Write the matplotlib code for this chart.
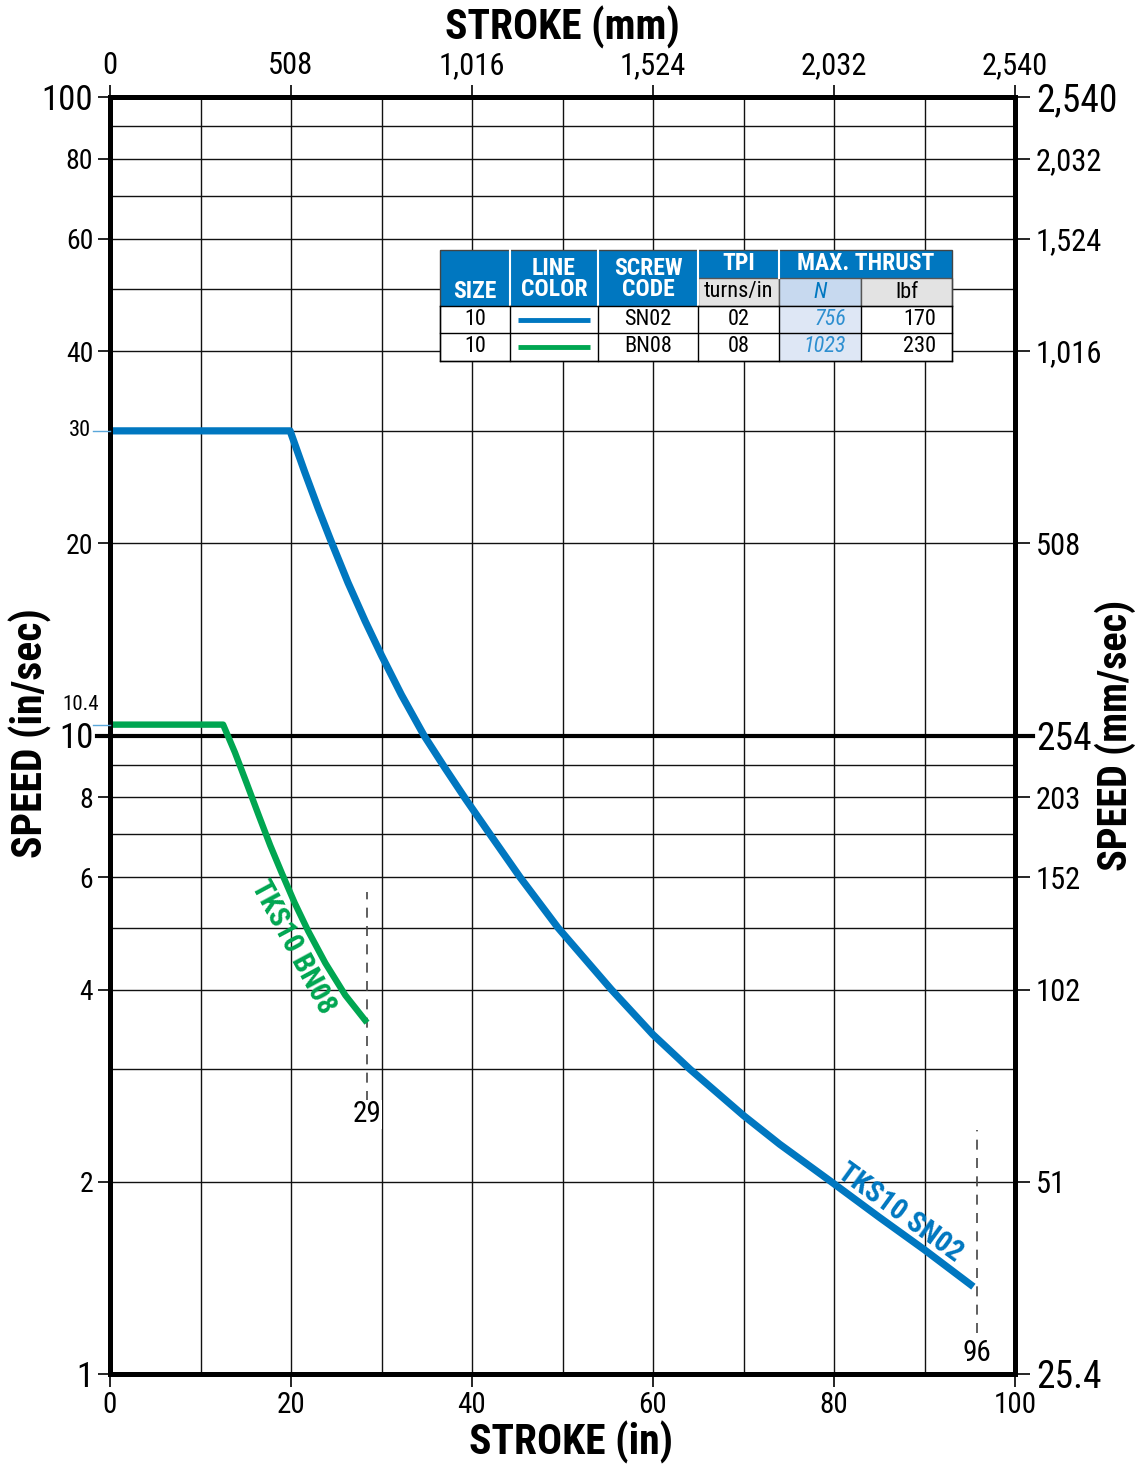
import os
import matplotlib
matplotlib.use('Agg')
import matplotlib.pyplot as plt
from matplotlib import font_manager as fm
from matplotlib.patches import Rectangle
from matplotlib.ticker import NullLocator

# ---------- condensed font lookup ----------
_files = {os.path.basename(f.fname).lower(): f.fname for f in fm.fontManager.ttflist}
_options = [
    ('robotocondensed-regular.ttf', 'robotocondensed-bold.ttf', 'robotocondensed-italic.ttf'),
    ('liberationsansnarrow-regular.ttf', 'liberationsansnarrow-bold.ttf', 'liberationsansnarrow-italic.ttf'),
    ('notosans-condensed.ttf', 'notosans-condensedbold.ttf', 'notosans-condenseditalic.ttf'),
    ('dejavusanscondensed.ttf', 'dejavusanscondensed-bold.ttf', 'dejavusanscondensed-oblique.ttf'),
]
FAM = 'Liberation Sans'
for reg, bld, ita in _options:
    if reg in _files and bld in _files:
        for key, w, st in [(reg, 400, 'normal'), (bld, 700, 'normal'), (ita, 400, 'italic')]:
            if key in _files:
                fm.fontManager.ttflist.append(fm.FontEntry(
                    fname=_files[key], name='CondFace', style=st, variant='normal',
                    weight=w, stretch='normal', size='scalable'))
        FAM = 'CondFace'
        break
plt.rcParams['font.family'] = [FAM, 'DejaVu Sans']

BLUE = '#0077C0'
GREEN = '#00A651'

# ---------------- data ----------------
sn02_x = [0, 19.9, 21.5, 23.0, 24.4, 26.3, 28.2, 30.0, 32.2, 34.7, 37.0, 39.3, 42.0,
          45.3, 49.5, 55.4, 60.0, 64.1, 70.0, 74.0, 79.7, 85.0, 90.0, 95.4]
sn02_y = [30, 30, 25.9, 22.7, 20.2, 17.35, 15.1, 13.35, 11.58, 10.0, 8.9, 7.95, 7.0,
          6.0, 5.0, 4.0, 3.4, 3.0, 2.54, 2.29, 2.0, 1.76, 1.565, 1.37]

bn08_x = [0, 12.5, 13.8, 15.1, 16.4, 17.7, 19.0, 20.4, 21.9, 23.8, 26.0, 28.4]
bn08_y = [10.4, 10.4, 9.41, 8.42, 7.52, 6.73, 6.08, 5.47, 4.94, 4.40, 3.92, 3.55]

max_stroke_x = [28.4, 95.8]
max_stroke_lbl = ['29', '96']
dash_top = [5.69, 2.41]
dash_bot = [2.68, 1.16]
max_lbl_y = [2.55, 1.08]

x_ticks = [0, 20, 40, 60, 80, 100]
x_mm_labels = ['0', '508', '1,016', '1,524', '2,032', '2,540']
y_ticks = [1, 2, 4, 6, 8, 10, 20, 40, 60, 80, 100]
y_in_labels = ['1', '2', '4', '6', '8', '10', '20', '40', '60', '80', '100']
y_mm_labels = ['25.4', '51', '102', '152', '203', '254', '508', '1,016', '1,524', '2,032', '2,540']
big_in = {'1', '10', '100'}
big_mm = {'25.4', '254', '2,540'}
extra_y = [30, 10.4]
extra_y_labels = ['30', '10.4']
grid_y = [2, 3, 4, 5, 6, 7, 8, 9, 20, 30, 40, 50, 60, 70, 80, 90]
grid_x = [10, 20, 30, 40, 50, 60, 70, 80, 90]

tbl_header_top = ['SIZE', 'LINE\nCOLOR', 'SCREW\nCODE', 'TPI', 'MAX. THRUST']
tbl_header_sub = ['turns/in', 'N', 'lbf']
tbl_size = ['10', '10']
tbl_color = [BLUE, GREEN]
tbl_code = ['SN02', 'BN08']
tbl_tpi = ['02', '08']
tbl_n = ['756', '1023']
tbl_lbf = ['170', '230']

# ---------------- figure ----------------
W, H = 1143, 1467
fig = plt.figure(figsize=(W / 100, H / 100), dpi=100)
L, R, T, B = 110, 1015, 97, 1374
ax = fig.add_axes([L / W, 1 - B / H, (R - L) / W, (B - T) / H])
ax.set_yscale('log')
ax.set_xlim(0, 100)
ax.set_ylim(1, 100)

for v in grid_y:
    ax.axhline(v, color='#111111', lw=1.0, zorder=1)
for v in grid_x:
    ax.axvline(v, color='#111111', lw=1.0, zorder=1)
ax.axhline(10, color='black', lw=3.0, zorder=2,
           xmin=-13 / (R - L), xmax=1 + 18 / (R - L), clip_on=False)

for s in ax.spines.values():
    s.set_linewidth(3.6)
    s.set_zorder(5)

ax.yaxis.set_minor_locator(NullLocator())
ax.set_xticks(x_ticks)
ax.set_xticklabels([str(v) for v in x_ticks])
ax.set_yticks(y_ticks)
ax.set_yticklabels(y_in_labels)
ax.tick_params(axis='both', which='major', direction='out', length=9, width=1.2,
               labelsize=21, pad=3)
for lab in ax.get_yticklabels():
    lab.set_fontsize(25 if lab.get_text() in big_in else 20)

secx = ax.secondary_xaxis('top')
secx.set_xticks(x_ticks)
secx.set_xticklabels(x_mm_labels)
secx.tick_params(direction='out', length=9, width=1.2, labelsize=22, pad=3)
for s in secx.spines.values():
    s.set_visible(False)

secy = ax.secondary_yaxis('right')
secy.set_yticks(y_ticks)
secy.set_yticklabels(y_mm_labels)
secy.yaxis.set_minor_locator(NullLocator())
secy.tick_params(direction='out', length=11, width=1.2, labelsize=22, pad=4)
for lab in secy.get_yticklabels():
    lab.set_fontsize(27 if lab.get_text() in big_mm else 22)
for s in secy.spines.values():
    s.set_visible(False)

# extra small labels at 30 and 10.4
yt = ax.get_yaxis_transform()
for v in extra_y:
    ax.plot([-17 / (R - L), 0], [v, v], color='#5AA7DA', lw=1.0, transform=yt,
            clip_on=False, zorder=6)
ax.text(-19 / (R - L), extra_y[0], extra_y_labels[0], transform=yt, ha='right',
        va='center', fontsize=16)
ax.text(-11 / (R - L), extra_y[1] * 1.04, extra_y_labels[1], transform=yt, ha='right',
        va='bottom', fontsize=15)

# curves
ax.plot(sn02_x, sn02_y, color=BLUE, lw=5.2, zorder=4, solid_joinstyle='round',
        solid_capstyle='butt')
ax.plot(bn08_x, bn08_y, color=GREEN, lw=4.6, zorder=4, solid_joinstyle='round',
        solid_capstyle='butt')

for xv, t, yt0, yb, yl in zip(max_stroke_x, max_stroke_lbl, dash_top, dash_bot, max_lbl_y):
    ax.plot([xv, xv], [yb, yt0], color='#444444', lw=1.2, dashes=(6, 5), zorder=3)
    ax.text(xv, yl, t, ha='center', va='center', fontsize=21, zorder=6,
            bbox=dict(facecolor='white', edgecolor='none', pad=0.5))

ax.text(20.2, 4.67, 'TKS10 BN08', color=GREEN, fontsize=21, fontweight='bold',
        rotation=-61.6, rotation_mode='anchor', ha='center', va='center', zorder=6)
ax.text(87.3, 1.79, 'TKS10 SN02', color=BLUE, fontsize=21, fontweight='bold',
        rotation=-36, rotation_mode='anchor', ha='center', va='center', zorder=6)

# titles
fig.text(562 / W, 1 - 27 / H, 'STROKE (mm)', ha='center', va='center',
         fontsize=30, fontweight='bold')
fig.text(571 / W, 1 - 1442 / H, 'STROKE (in)', ha='center', va='center',
         fontsize=30, fontweight='bold')
fig.text(30 / W, 1 - 733 / H, 'SPEED (in/sec)', ha='center', va='center',
         fontsize=30, fontweight='bold', rotation=90)
fig.text(1115 / W, 1 - 735 / H, 'SPEED (mm/sec)', ha='center', va='center',
         fontsize=29, fontweight='bold', rotation=90)

# ---------------- table ----------------
cx = [440, 510, 598, 698, 779, 861, 952]
ry = [250, 278, 306, 333, 361]
tax = fig.add_axes([cx[0] / W, 1 - ry[-1] / H, (cx[-1] - cx[0]) / W, (ry[-1] - ry[0]) / H])
tax.set_xlim(cx[0], cx[-1])
tax.set_ylim(ry[-1], ry[0])
tax.axis('off')
tax.set_zorder(10)

def rect(x0, y0, x1, y1, fc, ec='none', lw=0):
    tax.add_patch(Rectangle((x0, y0), x1 - x0, y1 - y0, facecolor=fc, edgecolor=ec,
                            linewidth=lw, clip_on=False))

rect(cx[0], ry[0], cx[-1], ry[4], 'white')
rect(cx[0], ry[0], cx[-1], ry[2], BLUE)
sub_fc = ['#E3E3E3', '#C7D9EF', '#E3E3E3']
for i in range(3):
    rect(cx[3 + i], ry[1], cx[4 + i], ry[2], sub_fc[i], ec='#555555', lw=1.0)
for r in range(2):
    rect(cx[4], ry[2 + r], cx[5], ry[3 + r], '#DEE7F5')
for xv in cx[1:4]:
    tax.plot([xv, xv], [ry[0], ry[2]], color='white', lw=1.5, clip_on=False)
tax.plot([cx[4], cx[4]], [ry[0], ry[1]], color='white', lw=1.5, clip_on=False)
for yv in ry[2:]:
    tax.plot([cx[0], cx[-1]], [yv, yv], color='black', lw=1.0, clip_on=False)
for xv in cx:
    tax.plot([xv, xv], [ry[2], ry[4]], color='black', lw=1.0, clip_on=False)
rect(cx[0], ry[0], cx[-1], ry[4], 'none', ec='#444444', lw=1.0)

hdr = dict(color='white', fontweight='bold', fontsize=17, ha='center')
tax.text((cx[0] + cx[1]) / 2, 292, tbl_header_top[0], va='center', **hdr)
tax.text((cx[1] + cx[2]) / 2, 279, tbl_header_top[1], va='center', linespacing=0.9, **hdr)
tax.text((cx[2] + cx[3]) / 2, 279, tbl_header_top[2], va='center', linespacing=0.9, **hdr)
tax.text((cx[3] + cx[4]) / 2, 264, tbl_header_top[3], va='center', **hdr)
tax.text((cx[4] + cx[6]) / 2, 264, tbl_header_top[4], va='center', **hdr)
tax.text((cx[3] + cx[4]) / 2, 292, tbl_header_sub[0], ha='center', va='center', fontsize=16)
tax.text((cx[4] + cx[5]) / 2, 292, tbl_header_sub[1], ha='center', va='center', fontsize=16,
         color=BLUE, style='italic')
tax.text((cx[5] + cx[6]) / 2, 292, tbl_header_sub[2], ha='center', va='center', fontsize=16)

for r in range(2):
    yc = (ry[2 + r] + ry[3 + r]) / 2
    tax.text((cx[0] + cx[1]) / 2, yc, tbl_size[r], ha='center', va='center', fontsize=16)
    tax.plot([cx[1] + 8, cx[2] - 8], [yc, yc], color=tbl_color[r], lw=3.5,
             solid_capstyle='butt', clip_on=False)
    tax.text((cx[2] + cx[3]) / 2, yc, tbl_code[r], ha='center', va='center', fontsize=16)
    tax.text((cx[3] + cx[4]) / 2, yc, tbl_tpi[r], ha='center', va='center', fontsize=16)
    tax.text(cx[5] - 15, yc, tbl_n[r], ha='right', va='center', fontsize=16,
             color='#2E8FD0', style='italic')
    tax.text(cx[6] - 16, yc, tbl_lbf[r], ha='right', va='center', fontsize=16)

fig.savefig('out.png', dpi=100)
